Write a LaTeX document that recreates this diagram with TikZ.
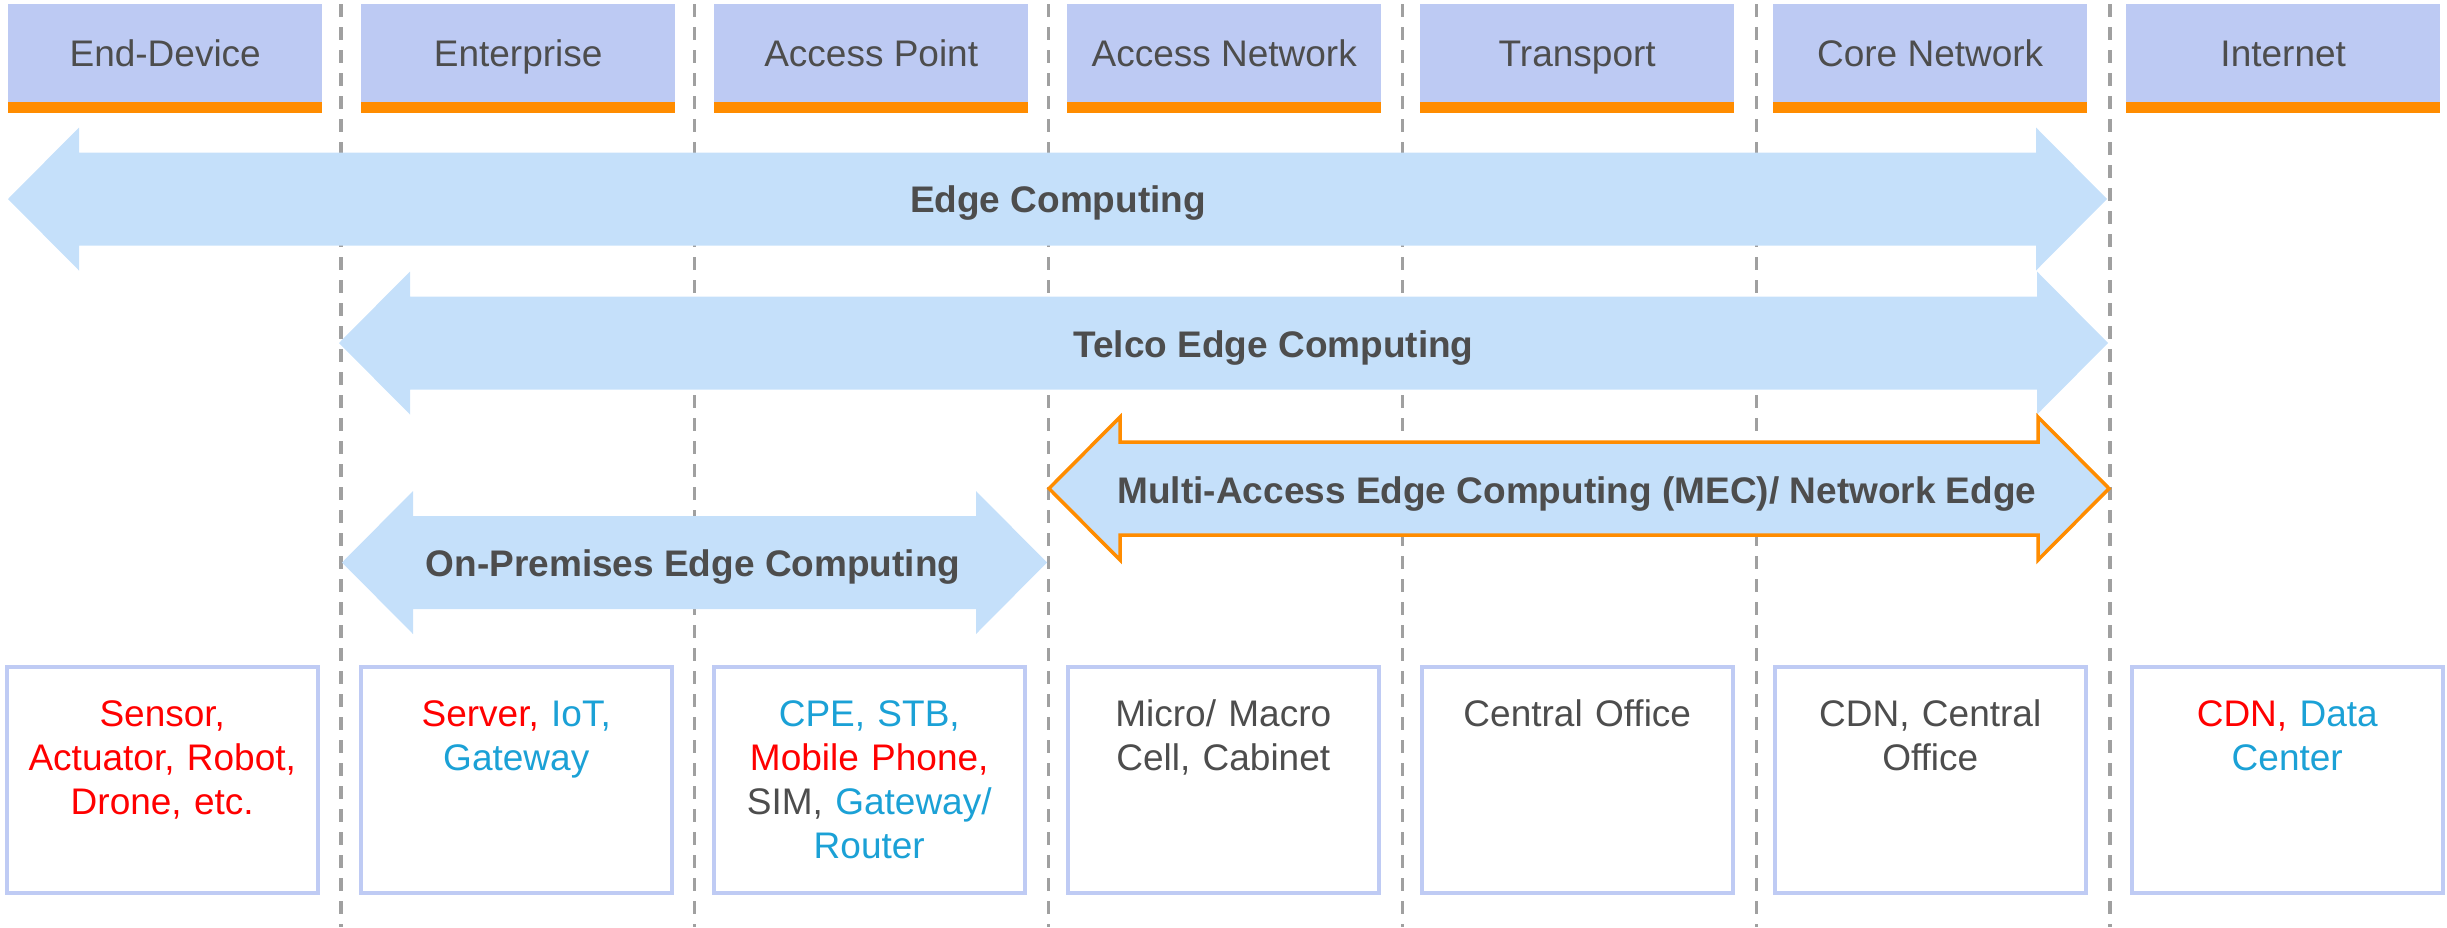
\documentclass[tikz,border=0pt]{standalone}
\usepackage{fontspec}
\setmainfont{Liberation Sans}
\definecolor{hdrfill}{HTML}{BDCAF3}
\definecolor{barorange}{HTML}{FF8C00}
\definecolor{arrfill}{HTML}{C5E0FA}
\definecolor{txtgray}{HTML}{4D4D4D}
\definecolor{txtred}{HTML}{FF0000}
\definecolor{txtblue}{HTML}{1BA1D6}
\definecolor{dashgray}{HTML}{A0A0A0}
\definecolor{boxline}{HTML}{BFCBF4}
\newcommand\DblArrow[4]{%
  \path[#1] (#2,#4) -- ({#2+71},{#4-71.5}) -- ({#2+71},{#4-46.5}) -- ({#3-71},{#4-46.5}) -- ({#3-71},{#4-71.5}) -- (#3,#4) -- ({#3-71},{#4+71.5}) -- ({#3-71},{#4+46.5}) -- ({#2+71},{#4+46.5}) -- ({#2+71},{#4+71.5}) -- cycle;}
\begin{document}
\begin{tikzpicture}[x=1pt,y=-1pt,
  hdrbox/.style={fill=hdrfill, draw=none, minimum width=314pt, minimum height=98pt, inner sep=0pt, anchor=north west, text=txtgray, font=\fontsize{37}{44}\selectfont, text height=27pt, text depth=0pt},
  barbox/.style={fill=barorange, draw=none, minimum width=314pt, minimum height=11pt, inner sep=0pt, anchor=north west},
  botbox/.style={fill=white, draw=boxline, line width=3.5pt, minimum width=311pt, minimum height=226pt, inner sep=0pt, anchor=north west},
  bottxt/.style={anchor=base, align=center, text width=305pt, inner sep=0pt, text=txtgray, font=\fontsize{37}{44}\selectfont},
  arrlbl/.style={anchor=base, inner sep=0pt, text=txtgray, font=\bfseries\fontsize{37}{44}\selectfont},
  sep/.style={draw=dashgray, line width=3.3pt, dash pattern=on 13pt off 10pt},
  lightarrow/.style={fill=arrfill, draw=none},
  mecarrow/.style={fill=arrfill, draw=barorange, line width=3.5pt, line join=miter}
]
\useasboundingbox (0,0) rectangle (2447,927);
% separators
\foreach \i/\xx in {1/341,2/694.8,3/1048.6,4/1402.4,5/1756.2,6/2110} {
  \coordinate (st\i) at (\xx,4);
  \coordinate (en\i) at (\xx,927);
  \draw[sep] (st\i) -- (en\i);
}
% header boxes
\foreach \i/\name in {0/End-Device,1/Enterprise,2/Access Point,3/Access Network,4/Transport,5/Core Network,6/Internet} {
  \node[hdrbox] (hdr\i) at ({8+353*\i},4) {\name};
  \node[barbox] (bar\i) at ({8+353*\i},102) {};
}
% arrows
\DblArrow{lightarrow}{8}{2107}{199}
\DblArrow{lightarrow}{339}{2108}{343}
\DblArrow{mecarrow}{1049}{2109}{488.5}
\DblArrow{lightarrow}{342}{1047}{562.5}
\node[arrlbl] (lbledge) at (1058,212) {Edge Computing};
\node[arrlbl] (lbltelco) at (1273.5,357) {Telco Edge Computing};
\node[arrlbl] (lblmec) at (1577,503) {Multi-Access Edge Computing (MEC)/ Network Edge};
\node[arrlbl] (lblonprem) at (693,576) {On-Premises Edge Computing};
% bottom boxes
\foreach \i/\xx in {0/5,1/359,2/712,3/1066,4/1420,5/1773,6/2130} {
  \node[botbox] (bot\i) at (\xx,665) {};
}
\node[bottxt] (t0) at (bot0.north |- 0,726) {\color{txtred}Sensor,\\Actuator, Robot,\\Drone, etc.};
\node[bottxt] (t1) at (bot1.north |- 0,726) {\color{txtred}Server, \color{txtblue}IoT,\\Gateway};
\node[bottxt] (t2) at (bot2.north |- 0,726) {\color{txtblue}CPE, STB,\\\color{txtred}Mobile Phone,\\\color{txtgray}SIM, \color{txtblue}Gateway/\\Router};
\node[bottxt] (t3) at (bot3.north |- 0,726) {Micro/ Macro\\Cell, Cabinet};
\node[bottxt] (t4) at (bot4.north |- 0,726) {Central Office};
\node[bottxt] (t5) at (bot5.north |- 0,726) {CDN, Central\\Office};
\node[bottxt] (t6) at (bot6.north |- 0,726) {\color{txtred}CDN, \color{txtblue}Data\\Center};
\end{tikzpicture}
\end{document}
